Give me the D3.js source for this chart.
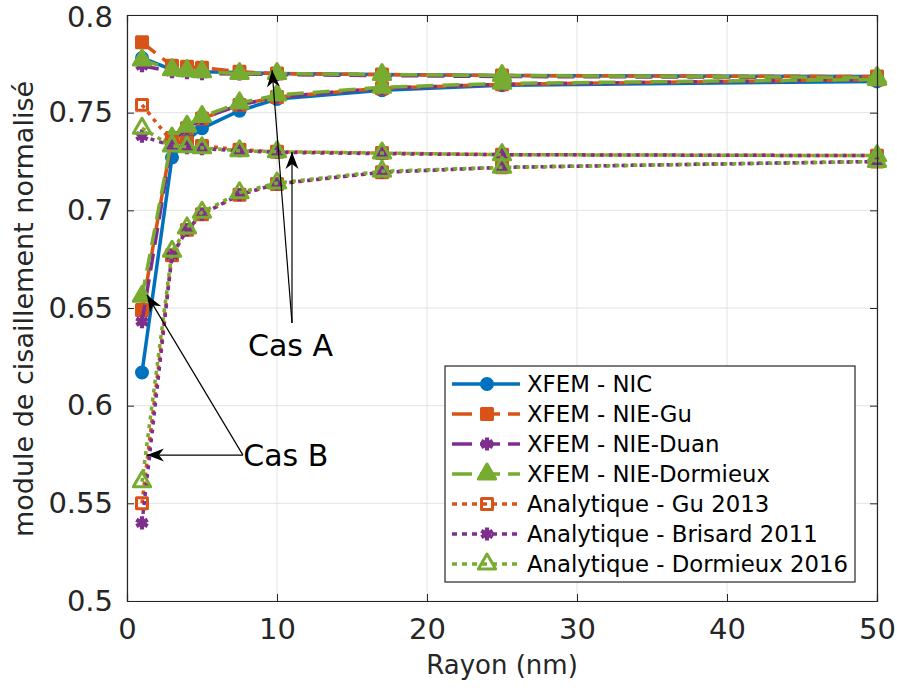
<!DOCTYPE html>
<html>
<head>
<meta charset="utf-8">
<script src="https://cdn.jsdelivr.net/npm/d3@7"></script>
<style>
  body { margin: 0; background: #fff; }
  svg { font-family: "DejaVu Sans", sans-serif; }
</style>
</head>
<body>
<svg id="chart" width="897" height="693"></svg>
<script>
// radius values (nm)
const radius = [1, 3, 4, 5, 7.5, 10, 17, 25, 50];

// XFEM results, Cas A and Cas B
const nicA = [0.778, 0.772, 0.7715, 0.771, 0.7705, 0.770, 0.7695, 0.769, 0.7685];
const nicB = [0.617, 0.727, 0.736, 0.742, 0.751, 0.757, 0.7615, 0.764, 0.766];
const guA = [0.786, 0.774, 0.7735, 0.773, 0.771, 0.770, 0.7695, 0.769, 0.7685];
const guB = [0.649, 0.737, 0.742, 0.747, 0.754, 0.758, 0.7625, 0.7645, 0.767];
const duanA = [0.774, 0.771, 0.7705, 0.770, 0.7698, 0.7695, 0.769, 0.7685, 0.768];
const duanB = [0.643, 0.735, 0.742, 0.747, 0.754, 0.758, 0.7625, 0.7645, 0.767];
const dormA = [0.777, 0.772, 0.7715, 0.771, 0.770, 0.770, 0.7695, 0.769, 0.768];
const dormB = [0.656, 0.737, 0.743, 0.748, 0.755, 0.759, 0.763, 0.765, 0.767];

// analytical results, Cas A and Cas B
const anaGuA = [0.754, 0.735, 0.7345, 0.733, 0.731, 0.730, 0.7293, 0.7285, 0.728];
const anaGuB = [0.550, 0.677, 0.690, 0.698, 0.708, 0.7135, 0.7195, 0.722, 0.725];
const anaBrisA = [0.738, 0.733, 0.732, 0.7315, 0.7305, 0.7297, 0.729, 0.7285, 0.728];
const anaBrisB = [0.540, 0.677, 0.690, 0.698, 0.708, 0.7135, 0.7195, 0.722, 0.725];
const anaDormA = [0.742, 0.733, 0.7325, 0.732, 0.7305, 0.730, 0.7293, 0.7285, 0.728];
const anaDormB = [0.561, 0.679, 0.691, 0.699, 0.709, 0.714, 0.720, 0.722, 0.725];

const seriesNames = ['XFEM - NIC', 'XFEM - NIE-Gu', 'XFEM - NIE-Duan', 'XFEM - NIE-Dormieux',
  'Analytique - Gu 2013', 'Analytique - Brisard 2011', 'Analytique - Dormieux 2016'];

const xTicks = [0, 10, 20, 30, 40, 50];
const yTicks = [0.5, 0.55, 0.6, 0.65, 0.7, 0.75, 0.8];

// annotations: label, label position, arrow tips (data coords)
const annotations = [
  { label: 'Cas A', tail: [11, 0.6423], tips: [[9.67, 0.7718], [11, 0.7299]], text: [10.9, 0.631], anchor: 'middle' },
  { label: 'Cas B', tail: [7.73, 0.5747], tips: [[1.33, 0.5747], [1.33, 0.6567]], text: [7.75, 0.5747], anchor: 'start' }
];

const colors = { blue: '#0072BD', orange: '#D95319', purple: '#7E2F8E', green: '#77AC30' };

const series = [
  { name: seriesNames[0], color: colors.blue, dash: null, marker: 'circle', filled: true, data: [nicA, nicB] },
  { name: seriesNames[1], color: colors.orange, dash: '17,9', marker: 'square', filled: true, data: [guA, guB] },
  { name: seriesNames[2], color: colors.purple, dash: '17,9', marker: 'asterisk', filled: true, data: [duanA, duanB] },
  { name: seriesNames[3], color: colors.green, dash: '17,9', marker: 'triangle', filled: true, data: [dormA, dormB] },
  { name: seriesNames[4], color: colors.orange, dash: '4,5', marker: 'square', filled: false, data: [anaGuA, anaGuB] },
  { name: seriesNames[5], color: colors.purple, dash: '4,5', marker: 'asterisk', filled: true, data: [anaBrisA, anaBrisB] },
  { name: seriesNames[6], color: colors.green, dash: '4,5', marker: 'triangle', filled: false, data: [anaDormA, anaDormB] }
];

const svg = d3.select('#chart');
const margin = { top: 15, right: 20, bottom: 92, left: 127 };
const width = 897 - margin.left - margin.right;
const height = 693 - margin.top - margin.bottom;
const axisColor = '#262626';

const x = d3.scaleLinear().domain([0, 50]).range([0, width]);
const y = d3.scaleLinear().domain([0.5, 0.8]).range([height, 0]);

const g = svg.append('g').attr('transform', `translate(${margin.left},${margin.top})`);

// grid
g.append('g').selectAll('line').data(xTicks).enter().append('line')
  .attr('x1', d => x(d)).attr('x2', d => x(d)).attr('y1', 0).attr('y2', height)
  .attr('stroke', '#e3e3e3').attr('stroke-width', 1);
g.append('g').selectAll('line').data(yTicks).enter().append('line')
  .attr('y1', d => y(d)).attr('y2', d => y(d)).attr('x1', 0).attr('x2', width)
  .attr('stroke', '#e3e3e3').attr('stroke-width', 1);

function symbolPath(type) {
  if (type === 'circle') return d3.symbol(d3.symbolCircle, 95)();
  if (type === 'square') return d3.symbol(d3.symbolSquare, 120)();
  if (type === 'triangle') return d3.symbol(d3.symbolTriangle, 130)();
  return d3.symbol(d3.symbolAsterisk, 120)();
}

function drawMarker(sel, s) {
  const isAst = s.marker === 'asterisk';
  sel.append('path')
    .attr('d', symbolPath(s.marker))
    .attr('fill', s.filled && !isAst ? s.color : 'none')
    .attr('stroke', s.color)
    .attr('stroke-width', isAst ? 4.2 : 3)
    .attr('stroke-linejoin', 'round');
}

const line = d3.line().x(d => x(d[0])).y(d => y(d[1]));

// lines and markers
series.forEach(s => {
  s.data.forEach(vals => {
    const pts = radius.map((r, i) => [r, vals[i]]);
    g.append('path')
      .datum(pts)
      .attr('d', line)
      .attr('fill', 'none')
      .attr('stroke', s.color)
      .attr('stroke-width', 3.5)
      .attr('stroke-dasharray', s.dash);
    g.append('g').selectAll('g').data(pts).enter().append('g')
      .attr('transform', d => `translate(${x(d[0])},${y(d[1])})`)
      .each(function() { drawMarker(d3.select(this), s); });
  });
});

// axes (box, ticks inside)
const axisL = g.append('g').call(d3.axisLeft(y).tickValues(yTicks).tickSize(-7).tickPadding(14).tickFormat(d => +d.toFixed(2)));
const axisB = g.append('g').attr('transform', `translate(0,${height})`)
  .call(d3.axisBottom(x).tickValues(xTicks).tickSize(-7).tickPadding(17));
const axisR = g.append('g').attr('transform', `translate(${width},0)`)
  .call(d3.axisRight(y).tickValues(yTicks).tickSize(-7).tickFormat(''));
const axisT = g.append('g')
  .call(d3.axisTop(x).tickValues(xTicks).tickSize(-7).tickFormat(''));
[axisL, axisB, axisR, axisT].forEach(a => {
  a.selectAll('path').attr('stroke', axisColor).attr('stroke-width', 1.2);
  a.selectAll('line').attr('stroke', axisColor);
  a.selectAll('text').attr('fill', axisColor).style('font-size', '29px').style('font-family', 'DejaVu Sans');
});
// keep the top label inside the page
axisL.selectAll('.tick text').filter(d => d === 0.8).attr('dy', '0.4em');

// axis titles
g.append('text')
  .attr('x', width / 2).attr('y', height + 73)
  .attr('text-anchor', 'middle').attr('fill', axisColor)
  .style('font-size', '26px')
  .text('Rayon (nm)');
g.append('text')
  .attr('transform', 'rotate(-90)')
  .attr('x', -(y(0.65) + 1)).attr('y', -margin.left + 33)
  .attr('text-anchor', 'middle').attr('fill', axisColor)
  .style('font-size', '27px')
  .text('module de cisaillement normalisé');

// annotations
function arrowHead(tip, tail) {
  const ang = Math.atan2(tip[1] - tail[1], tip[0] - tail[0]);
  const len = 17, half = 6.5, back = 12;
  const cos = Math.cos(ang), sin = Math.sin(ang);
  const p = (a, b) => [tip[0] - a * cos + b * sin, tip[1] - a * sin - b * cos];
  return [tip, p(len, half), p(back, 0), p(len, -half)];
}
annotations.forEach(a => {
  const t = [x(a.tail[0]), y(a.tail[1])];
  a.tips.forEach(tp => {
    const tip = [x(tp[0]), y(tp[1])];
    g.append('line')
      .attr('x1', t[0]).attr('y1', t[1]).attr('x2', tip[0]).attr('y2', tip[1])
      .attr('stroke', '#000').attr('stroke-width', 1.2);
    g.append('path')
      .attr('d', 'M' + arrowHead(tip, t).join('L') + 'Z')
      .attr('fill', '#000');
  });
  g.append('text')
    .attr('x', x(a.text[0])).attr('y', y(a.text[1]))
    .attr('dy', '0.36em')
    .attr('text-anchor', a.anchor)
    .attr('fill', '#000')
    .style('font-size', '30px')
    .text(a.label);
});

// legend
const legend = svg.append('g').attr('transform', 'translate(445,366)');
legend.append('rect')
  .attr('width', 410).attr('height', 216)
  .attr('fill', '#fff').attr('stroke', axisColor).attr('stroke-width', 1.2);
series.forEach((s, i) => {
  const row = legend.append('g').attr('transform', `translate(0,${18 + i * 30})`);
  row.append('line')
    .attr('x1', 7).attr('x2', 75).attr('y1', 0).attr('y2', 0)
    .attr('stroke', s.color).attr('stroke-width', 3.5)
    .attr('stroke-dasharray', s.dash ? (s.dash === '17,9' ? '20,8' : '5,5') : null);
  const m = row.append('g').attr('transform', 'translate(42,0)');
  drawMarker(m, s);
  row.append('text')
    .attr('x', 82).attr('y', 0).attr('dy', '0.36em')
    .attr('fill', '#000')
    .style('font-size', '22.8px')
    .text(s.name);
});
</script>
</body>
</html>
